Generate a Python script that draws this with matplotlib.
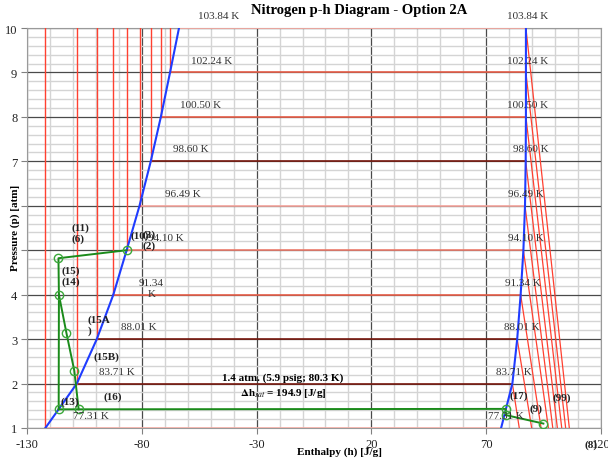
import matplotlib
matplotlib.use("Agg")
import matplotlib.pyplot as plt
import numpy as np

# ---- data ----
p_sat = [1, 2, 3, 4, 5, 6, 7, 8, 9, 10]  # atm
T_sat = ["77.31 K", "83.71 K", "88.01 K", "91.34 K", "94.10 K",
         "96.49 K", "98.60 K", "100.50 K", "102.24 K", "103.84 K"]
h_liq = [-122.0, -108.3, -99.6, -92.4, -86.6, -81.0, -76.1, -71.7, -67.7, -63.8]  # J/g
h_vap = [76.5, 81.4, 83.5, 85.0, 86.2, 86.9, 87.2, 87.3, 87.3, 87.3]
# vapour isotherms end at p = 1 atm (83.71 K ... 103.84 K)
h_vap_end = [84.4, 89.8, 93.9, 97.1, 99.0, 101.0, 102.9, 104.6, 106.2]

x_ticks = [-130, -80, -30, 20, 70, 120]
y_ticks = [1, 2, 3, 4, 5, 6, 7, 8, 9, 10]
y_ticklabels = ["1", "2", "3", "4", "", "", "7", "8", "9", "10"]  # 5, 6 hidden under the axis title

# isotherm label positions
lbl_left_h = [-102.1, -91.0, -81.2, -75.8, -69.7, -62.3, -58.6, -54.4, -49.4, -46.4]
lbl_right_h = [78.8, 81.9, 85.4, 86.0, 87.1, 87.1, 89.3, 88.2, 88.2, 88.2]
lbl_dp = 0.28

# cycle state points (h [J/g], p [atm])
cyc_h = {"A": -86.6, "B": -116.3, "C": -116.1, "D": -112.8, "E": -109.4,
         "F": -107.5, "G": -116.2, "H": 78.5, "I": 78.6, "J": 94.9}
cyc_p = {"A": 5.0, "B": 4.82, "C": 4.0, "D": 3.13, "E": 2.29,
         "F": 1.42, "G": 1.42, "H": 1.43, "I": 1.29, "J": 1.1}
cyc_paths = [["A", "B", "C", "G"], ["C", "D", "E", "F"], ["G", "H", "I", "J"]]

cyc_labels = [("(11)\n(6)", -110.5, 5.40), ("(10)", -85.1, 5.33), ("(3)\n(2)", -79.9, 5.23),
              ("(15)\n(14)", -114.9, 4.42), ("(15A\n)", -103.6, 3.32), ("(15B)", -101.1, 2.61),
              ("(16)", -96.8, 1.71), ("(13)", -115.6, 1.60), ("(17)", 80.1, 1.74),
              ("(9)", 88.8, 1.45), ("(99)", 99.0, 1.69), ("(8)", 112.6, 0.64)]

plt.rcParams['font.family'] = ['Liberation Serif', 'DejaVu Serif']
plt.rcParams['mathtext.fontset'] = 'stix'
plt.rcParams['axes.unicode_minus'] = False

fig = plt.figure(figsize=(6.08, 4.6), dpi=100)
ax = fig.add_axes([27/608, 31/460, 574/608, 400/460])
ax.set_xlim(-130, 120)
ax.set_ylim(1, 10)

# grid
ax.set_xticks(x_ticks)
ax.set_xticks(np.arange(-130, 121, 10), minor=True)
ax.set_yticks(y_ticks)
ax.set_yticklabels(y_ticklabels)
ax.set_yticks(np.arange(1, 10.01, 0.2), minor=True)
ax.grid(which='minor', color='#d4d4d4', lw=1.0)
ax.grid(which='major', color='#4a4a4a', lw=0.9)
ax.set_axisbelow(True)
ax.tick_params(which='minor', length=0)
ax.tick_params(which='major', length=4, labelsize=9, color='#808080', pad=3,
               labelcolor='#222222')
for s in ax.spines.values():
    s.set_color('#9a9a9a')

# isotherms
hcol = ['#f7b0a8', '#7a1a10', '#7a1a10', '#e8604a', '#f08070',
        '#f7a8a0', '#7a1a10', '#e8604a', '#e8604a', '#f7a8a0']
for i in range(len(p_sat)):
    ax.plot([h_liq[i], h_vap[i]], [p_sat[i], p_sat[i]], color=hcol[i], lw=1.2, zorder=3)
    ax.plot([h_liq[i], h_liq[i]], [p_sat[i], 10], color='#ff4030', lw=1.0, zorder=3)
    if i > 0:
        ax.plot([h_vap[i], h_vap_end[i-1]], [p_sat[i], 1], color='#ff4030', lw=0.9, zorder=3)

# saturation dome
ax.plot(h_liq, p_sat, color='#1f3cff', lw=1.5, zorder=4)
ax.plot(h_vap, p_sat, color='#1f3cff', lw=1.5, zorder=4)

# cycle
for path in cyc_paths:
    ax.plot([cyc_h[k] for k in path], [cyc_p[k] for k in path],
            color='#1a8a1a', lw=1.4, zorder=5)
ax.plot(list(cyc_h.values()), list(cyc_p.values()), 'o', ms=6, mfc='none',
        mec='#3aa83a', mew=1.0, zorder=6)

# isotherm labels
for i in range(len(p_sat)):
    left = T_sat[i].replace(" ", "\n") if T_sat[i] == "91.34 K" else T_sat[i]
    py = p_sat[i] + lbl_dp if left == T_sat[i] else p_sat[i] + 0.15
    ax.text(lbl_left_h[i], py, left, ha='center', va='center', fontsize=8,
            color='#333333', linespacing=1.3, zorder=7, clip_on=False)
    ax.text(lbl_right_h[i], p_sat[i] + lbl_dp, T_sat[i], ha='center', va='center',
            fontsize=8, color='#333333', zorder=7, clip_on=False)

for txt, h, p in cyc_labels:
    ax.text(h, p, txt, ha='left', va='center', fontsize=8, fontweight='bold',
            color='#222222', linespacing=1.2, zorder=7, clip_on=False)

ax.text(-18.7, 2.14, "1.4 atm. (5.9 psig; 80.3 K)", ha='center', va='center',
        fontsize=8, fontweight='bold', zorder=7)
ax.text(-18.5, 1.80, r"$\mathbf{\Delta h}_{sat}$ = 194.9 [J/g]", ha='center', va='center',
        fontsize=8, fontweight='bold', zorder=7)

fig.text(0.590, 0.978, "Nitrogen p-h Diagram - Option 2A", ha='center', va='center',
         fontsize=10.5, fontweight='bold')
fig.text(0.5576, 0.017, "Enthalpy (h) [J/g]", ha='center', va='center',
         fontsize=8, fontweight='bold')
fig.text(0.025, 0.504, "Pressure (p) [atm]", ha='center', va='center', rotation=90,
         fontsize=8, fontweight='bold',
         bbox=dict(facecolor='white', edgecolor='none', pad=0.5))

fig.savefig("out.png", dpi=100)
